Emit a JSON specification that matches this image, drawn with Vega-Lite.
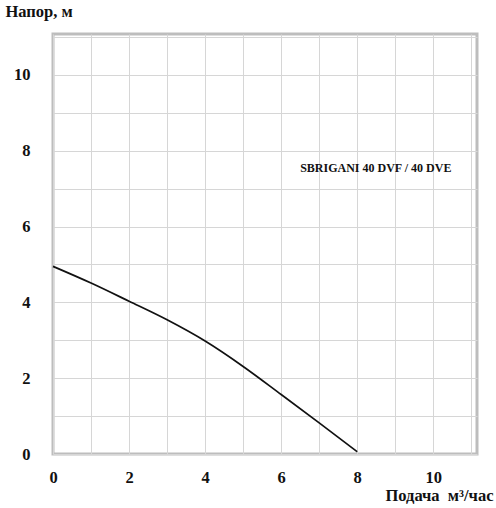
{
  "$schema": "https://vega.github.io/schema/vega-lite/v6.json",
  "width": 424,
  "height": 420,
  "autosize": {"type": "none"},
  "padding": {"left": 53, "top": 34, "right": 19, "bottom": 54},
  "background": "white",
  "config": {
    "view": {"stroke": "#bdbdbd", "strokeWidth": 3},
    "font": "Liberation Serif",
    "axis": {
      "labelFont": "Liberation Serif",
      "labelFontWeight": "bold",
      "labelFontSize": 16.5,
      "labelColor": "#111",
      "titleFont": "Liberation Serif",
      "titleFontWeight": "bold",
      "titleFontSize": 16.5,
      "titleColor": "#111",
      "gridColor": "#d6d6d6",
      "gridWidth": 1,
      "gridOpacity": 1,
      "ticks": false,
      "domain": false
    }
  },
  "data": {
    "values": [
      {"q": 0, "h": 4.95},
      {"q": 1, "h": 4.51},
      {"q": 2, "h": 4.03},
      {"q": 3, "h": 3.54},
      {"q": 4, "h": 2.98},
      {"q": 5, "h": 2.31},
      {"q": 6, "h": 1.57},
      {"q": 7, "h": 0.82},
      {"q": 8, "h": 0.06}
    ]
  },
  "encoding": {
    "x": {
      "field": "q",
      "type": "quantitative",
      "scale": {"domain": [0, 11.15], "nice": false, "zero": false},
      "axis": {
        "values": [0, 1, 2, 3, 4, 5, 6, 7, 8, 9, 10, 11],
        "labelExpr": "datum.value % 2 === 0 ? datum.label : ''",
        "labelPadding": 15,
        "labelFlush": false,
        "title": "Подача\u00a0\u00a0м³/час",
        "titleAnchor": "end",
        "titleAlign": "right",
        "titleBaseline": "alphabetic",
        "titleX": 440,
        "titleY": 46
      }
    },
    "y": {
      "field": "h",
      "type": "quantitative",
      "scale": {"domain": [0, 11.08], "nice": false, "zero": false},
      "axis": {
        "values": [0, 1, 2, 3, 4, 5, 6, 7, 8, 9, 10, 11],
        "labelExpr": "datum.value % 2 === 0 ? datum.label : ''",
        "labelPadding": 23,
        "labelFlush": false,
        "title": "Напор, м",
        "titleAngle": 0,
        "titleAlign": "left",
        "titleBaseline": "alphabetic",
        "titleX": -48,
        "titleY": -18
      }
    }
  },
  "layer": [
    {
      "mark": {"type": "line", "color": "#111", "strokeWidth": 1.7, "interpolate": "monotone"}
    },
    {
      "data": {"values": [{"q": 6.5, "h": 7.55, "label": "SBRIGANI 40 DVF / 40 DVE"}]},
      "mark": {
        "type": "text",
        "align": "left",
        "baseline": "middle",
        "font": "Liberation Serif",
        "fontWeight": "bold",
        "fontSize": 12,
        "color": "#111"
      },
      "encoding": {
        "text": {"field": "label"}
      }
    }
  ]
}
